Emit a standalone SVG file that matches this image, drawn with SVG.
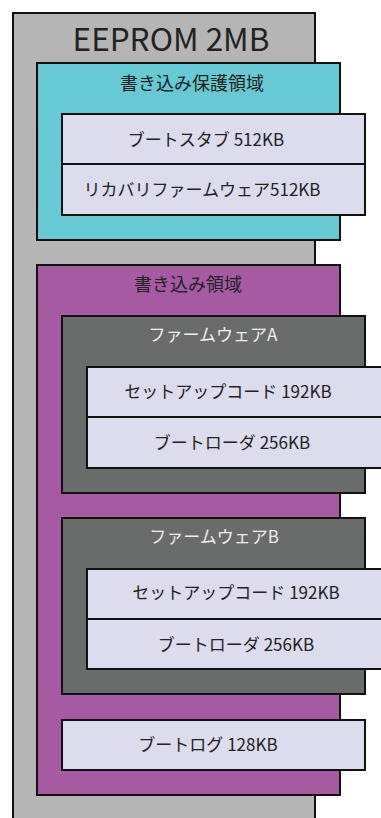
<svg xmlns="http://www.w3.org/2000/svg" width="381" height="818" viewBox="0 0 381 818">
<style>
rect{stroke:#111;stroke-width:2}
.g{fill:#b5b5b5}
.c{fill:#67c9d3}
.p{fill:#a55aa2}
.d{fill:#6a6b6b}
.l{fill:#dcdcee}
text{font-family:"Noto Sans CJK JP","Noto Sans",sans-serif;text-anchor:middle;fill:#222}
.t{font-size:17px}
.h{font-size:18px}
.w{fill:#eeeeee}
</style>
<g id="eeprom"><rect class="g" x="13" y="13" width="302" height="820"/><text x="171" y="51" font-size="31.5">EEPROM 2MB</text></g>
<g id="protected"><rect class="c" x="37" y="63" width="303" height="177"/><text class="h" x="192" y="90">書き込み保護領域</text></g>
<g id="bootstub"><rect class="l" x="62" y="114" width="303" height="50"/><text class="t" x="206" y="146">ブートスタブ 512KB</text></g>
<g id="recovery"><rect class="l" x="62" y="164" width="303" height="51"/><text class="t" x="202" y="196">リカバリファームウェア512KB</text></g>
<g id="writable"><rect class="p" x="37" y="265" width="303" height="530"/><text class="h" x="188" y="291">書き込み領域</text></g>
<g id="fwA"><rect class="d" x="62" y="316" width="303" height="177"/><text class="t w" x="213" y="341">ファームウェアA</text></g>
<g id="setupA"><rect class="l" x="87" y="367" width="310" height="50"/><text class="t" x="228" y="398">セットアップコード 192KB</text></g>
<g id="loaderA"><rect class="l" x="87" y="417" width="310" height="51"/><text class="t" x="232" y="449">ブートローダ 256KB</text></g>
<g id="fwB"><rect class="d" x="62" y="518" width="303" height="176"/><text class="t w" x="214" y="543">ファームウェアB</text></g>
<g id="setupB"><rect class="l" x="87" y="569" width="310" height="50"/><text class="t" x="236" y="599">セットアップコード 192KB</text></g>
<g id="loaderB"><rect class="l" x="87" y="619" width="310" height="50"/><text class="t" x="236" y="651">ブートローダ 256KB</text></g>
<g id="bootlog"><rect class="l" x="62" y="720" width="303" height="50"/><text class="t" x="208" y="751">ブートログ 128KB</text></g>
<g id="connectors"/>
</svg>
